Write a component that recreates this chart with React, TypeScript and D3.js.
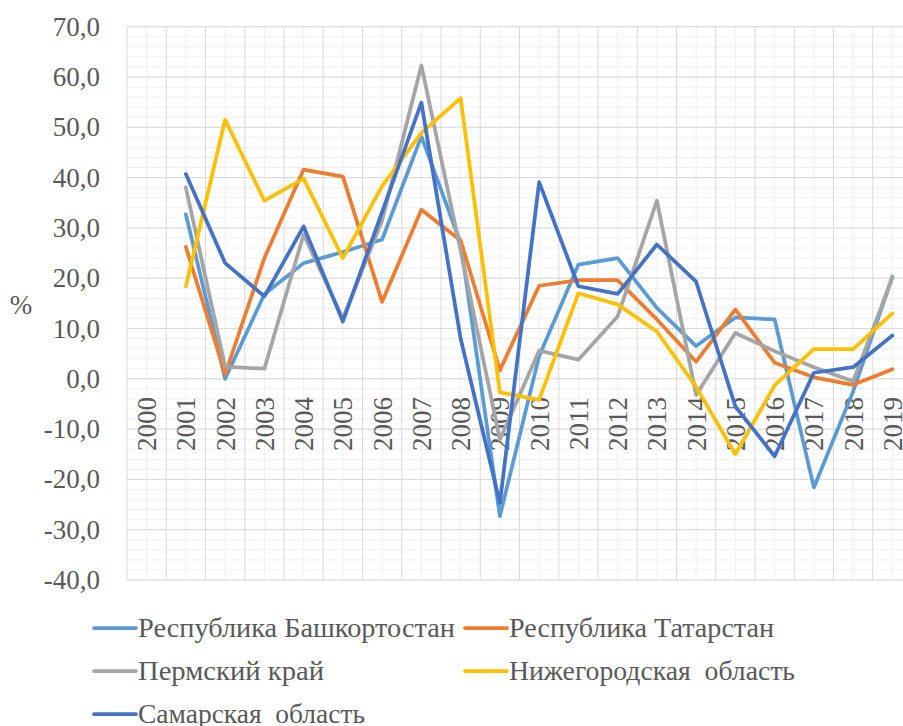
import React from "react";
import * as d3 from "d3";

const years = ["2000","2001","2002","2003","2004","2005","2006","2007","2008","2009","2010","2011","2012","2013","2014","2015","2016","2017","2018","2019"];

const bashkortostan = [null, 32.7, 0.0, 16.8, 23.0, 25.2, 27.7, 48.2, 27.0, -27.3, 4.5, 22.7, 24.0, 14.1, 6.5, 12.2, 11.8, -21.6, -2.5, 20.3];
const tatarstan = [null, 26.2, 0.9, 24.0, 41.6, 40.2, 15.3, 33.6, 27.5, 1.7, 18.5, 19.6, 19.6, 11.8, 3.4, 13.8, 3.2, 0.3, -1.2, 1.9];
const perm = [null, 38.0, 2.4, 2.0, 28.7, 12.0, 31.5, 62.3, 25.5, -12.1, 5.6, 3.8, 12.4, 35.4, -3.2, 9.1, 5.5, 2.3, -0.5, 20.1];
const nizhny = [null, 18.4, 51.5, 35.4, 39.8, 24.0, 38.3, 48.9, 55.8, -2.7, -4.2, 17.0, 14.8, 9.4, -1.6, -15.0, -1.3, 5.9, 5.9, 13.0];
const samara = [null, 40.7, 23.0, 16.4, 30.3, 11.4, 33.2, 54.9, 8.0, -24.7, 39.1, 18.4, 16.9, 26.7, 19.3, -5.5, -15.4, 1.2, 2.3, 8.6];

const seriesNames = ["Республика Башкортостан", "Республика Татарстан", "Пермский край", "Нижегородская  область", "Самарская  область"];
const seriesColors = ["#5B9BD5", "#ED7D31", "#A5A5A5", "#FFC000", "#4472C4"];
const seriesData = [bashkortostan, tatarstan, perm, nizhny, samara];

const yTicks = [70, 60, 50, 40, 30, 20, 10, 0, -10, -20, -30, -40];

const W = 903, H = 726;
const left = 127, right = 912, top = 26.7, bottom = 580;
const TEXT = "#595959";

export default function App() {
  const x = d3.scaleBand<string>().domain(years).range([left, right]);
  const y = d3.scaleLinear().domain([-40, 70]).range([bottom, top]);
  const bw = x.bandwidth();

  const minorY = d3.range(-40, 70.001, 2);
  const majorY = d3.range(-40, 70.001, 10);

  const line = d3
    .line<number | null>()
    .defined((d) => d !== null)
    .x((_, i) => (x(years[i]) as number) + bw / 2)
    .y((d) => y(d as number));

  const legendLayout = [
    { col: 0, row: 0, len: 317 },
    { col: 1, row: 0, len: 265 },
    { col: 0, row: 1, len: 186 },
    { col: 1, row: 1, len: 286 },
    { col: 0, row: 2, len: 227 },
  ];
  const legendCols = [94, 465];
  const legendRows = [628, 671, 714];

  return (
    <div style={{ position: "absolute", left: 0, top: 0, width: W, height: H, fontFamily: "Liberation Serif" }}>
      <svg width={W} height={H} fontFamily="Liberation Serif">
        <rect x={0} y={0} width={W} height={H} fill="#fff" />
        {minorY.map((v) => (
          <line key={"mh" + v} x1={left} x2={right} y1={y(v)} y2={y(v)} stroke="#f0f0f0" strokeWidth={1} />
        ))}
        {years.map((yr) => (
          <line key={"mv" + yr} x1={(x(yr) as number) + bw / 2} x2={(x(yr) as number) + bw / 2} y1={top} y2={bottom} stroke="#f0f0f0" strokeWidth={1} />
        ))}
        {majorY.map((v) => (
          <line key={"Mh" + v} x1={left} x2={right} y1={y(v)} y2={y(v)} stroke="#d9d9d9" strokeWidth={1} />
        ))}
        {years.map((yr) => (
          <line key={"Mv" + yr} x1={x(yr) as number} x2={x(yr) as number} y1={top} y2={bottom} stroke="#d9d9d9" strokeWidth={1} />
        ))}
        <line x1={right} x2={right} y1={top} y2={bottom} stroke="#d9d9d9" strokeWidth={1} />

        {yTicks.map((v) => (
          <text key={"yt" + v} x={100} y={y(v) + 9} textAnchor="end" fontFamily="Liberation Serif" fontSize={27} fill={TEXT}>
            {v.toFixed(1).replace(".", ",")}
          </text>
        ))}
        <text x={21} y={314} textAnchor="middle" fontFamily="Liberation Serif" fontSize={27} fill={TEXT}>%</text>

        {years.map((yr) => (
          <text
            key={"xl" + yr}
            transform={`translate(${(x(yr) as number) + bw / 2 + 9.5},${397}) rotate(-90)`}
            textAnchor="end"
            fontFamily="Liberation Serif"
            fontSize={27}
            fill={TEXT}
          >
            {yr}
          </text>
        ))}

        {seriesData.map((s, i) => (
          <path key={"s" + i} d={line(s) || ""} fill="none" stroke={seriesColors[i]} strokeWidth={3.75} strokeLinejoin="round" strokeLinecap="round" />
        ))}

        {legendLayout.map((l, i) => {
          const lx = legendCols[l.col];
          const ly = legendRows[l.row];
          return (
            <g key={"lg" + i}>
              <line x1={lx} x2={lx + 42} y1={ly} y2={ly} stroke={seriesColors[i]} strokeWidth={3.75} strokeLinecap="round" />
              <text x={lx + 44} y={ly + 9} fontFamily="Liberation Serif" fontSize={27} fill={TEXT} textLength={l.len} lengthAdjust="spacingAndGlyphs" xmlSpace="preserve">
                {seriesNames[i]}
              </text>
            </g>
          );
        })}
      </svg>
    </div>
  );
}
